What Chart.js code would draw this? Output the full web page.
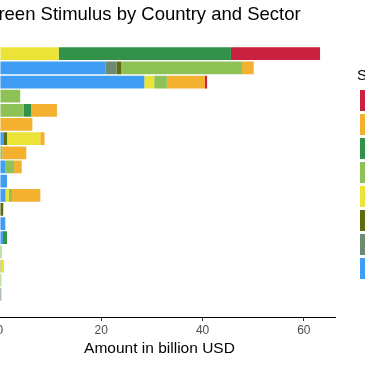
<!DOCTYPE html>
<html><head><meta charset="utf-8">
<script src="https://cdn.jsdelivr.net/npm/chart.js@4"></script>
<style>
html,body{margin:0;padding:0;width:365px;height:365px;overflow:hidden;background:#fff}
#c{position:absolute;left:-126px;top:0}
</style></head><body>
<canvas id="c" width="553" height="365"></canvas>
<script>
const countries=['Germany','France','Spain','Austria','Italy','Netherlands','Canada','Denmark','Japan','China',
  'United Kingdom','India','South Korea','Finland','Norway','Sweden','Poland','Mexico','Brazil'];
const xTicks=[0,20,40,60];

// one array per sector, values in billion USD, same order as countries
const transport=[0,20.8,28.5,0,0,0,0.8,0,1.05,1.4,1.1,0,1.05,0.6,0,0,0,0,0];
const recycling=[0,2.2,0,0,0,0,0,0,0,0,0,0,0,0,0,0,0,0.25,0];
const rnd=[0,0.9,0,0,0,0,0.6,0,0,0,0,0.65,0,0,0,0.15,0,0,0];
const other=[11.6,0,1.95,0,0,0,6.55,0,0,0,0.67,0,0,0,0,0.65,0,0,0];
const nature=[0,23.9,2.5,4.0,4.65,0,0,0.45,1.75,0,0.6,0,0,0,0.3,0,0.25,0,0];
const forestry=[34.0,0,0,0,1.5,0,0,0,0,0,0,0,0,0.8,0,0,0,0,0];
const energy=[0,2.3,7.5,0,5.1,6.4,0.85,4.75,1.5,0,5.6,0,0,0,0,0,0,0,0];
const buildings=[17.6,0,0.45,0,0,0,0,0,0,0,0,0,0,0,0,0,0,0,0];

const F='"Liberation Sans", Arial, sans-serif';
// stacked from zero outwards; legend shows them reversed
const series=[
  ['Transport',transport,'#3f9df3'],
  ['Recycling',recycling,'#6f8b6f'],
  ['R&D',rnd,'#5b6f10'],
  ['Other',other,'#ebe338'],
  ['Nature',nature,'#8ec257'],
  ['Forestry',forestry,'#32924a'],
  ['Energy',energy,'#f3b12f'],
  ['Buildings',buildings,'#c9213f']
];

new Chart(document.getElementById('c'),{
  type:'bar',
  data:{labels:countries,datasets:series.map(([label,data,c])=>({
    label,data,backgroundColor:c,borderWidth:0,
    barPercentage:0.9,categoryPercentage:1
  }))},
  options:{
    responsive:false,animation:false,indexAxis:'y',
    layout:{padding:{left:10,right:0,top:0,bottom:7}},
    plugins:{
      tooltip:{enabled:false},
      title:{display:true,text:'Green Stimulus by Country and Sector',align:'start',fullSize:false,
        color:'#000',font:{family:F,size:18.5,weight:'normal'},padding:{top:4,bottom:19}},
      legend:{position:'right',align:'start',reverse:true,maxWidth:70,
        title:{display:true,text:'Sector',position:'start',color:'#000',
          font:{family:F,size:15},padding:{top:68,bottom:1}},
        labels:{boxWidth:17,boxHeight:21,padding:3,color:'#000',font:{family:F,size:14}}}
    },
    scales:{
      x:{stacked:true,min:-3.15,max:66.15,
        afterBuildTicks:s=>{s.ticks=xTicks.map(v=>({value:v}));},
        grid:{display:true,drawOnChartArea:false,drawTicks:true,tickLength:4,color:'#333'},
        border:{display:true,color:'#000',width:1},
        ticks:{color:'#4d4d4d',font:{family:F,size:12},padding:2,maxRotation:0},
        title:{display:true,text:'Amount in billion USD',color:'#000',font:{family:F,size:15.5},padding:{top:0,bottom:0}}},
      y:{stacked:true,
        afterFit:s=>{s.width=100;},
        // ggplot-like 0.6 band padding at both ends
        afterBuildTicks:s=>{s._startValue=-0.6;s._valueRange=s.getLabels().length+0.2;},
        grid:{display:false},border:{display:true,color:'#000'},
        ticks:{color:'#4d4d4d',font:{family:F,size:12}}},
      yR:{type:'linear',position:'right',display:true,grid:{display:false},border:{display:false},
        ticks:{display:false},afterFit:s=>{s.width=22;}}
    }
  }
});
</script></body></html>
